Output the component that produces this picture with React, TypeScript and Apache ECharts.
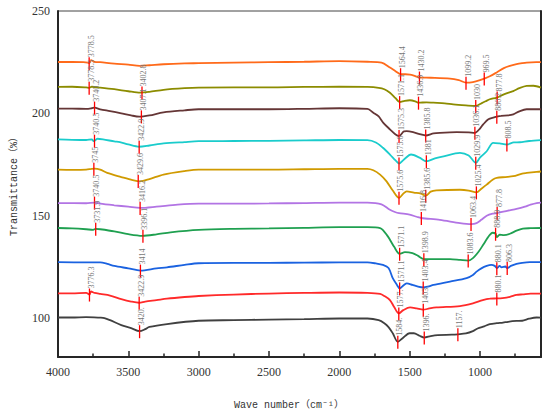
import React, { useEffect, useRef } from "react";
import * as echarts from "echarts";

const xTicks = [1000, 1500, 2000, 2500, 3000, 3500, 4000];
const xMinorTicks = [750, 1250, 1750, 2250, 2750, 3250, 3750];
const yTicks = [100, 150, 200, 250];

type Pt = [number, number];

const orange: Pt[] = [
  [4000, 225.1], [3900, 225.1], [3820, 225], [3790, 224.8], [3778, 224.5], [3765, 226], [3740, 225.2],
  [3700, 225], [3600, 224.3], [3500, 223.8], [3420, 223.2], [3350, 223.5], [3250, 224], [3100, 224.4],
  [3000, 224.5], [2750, 224.8], [2500, 225], [2250, 225.2], [2000, 225.5], [1800, 225.2], [1700, 224.8],
  [1640, 222.4], [1600, 220.6], [1564, 219.1], [1530, 219.1], [1498, 218.9], [1470, 218.4], [1430, 217.5],
  [1350, 217.4], [1213, 217], [1150, 216.2], [1099, 215], [1050, 215.3], [1000, 216.2], [969, 217],
  [930, 218.1], [881, 220], [830, 222.1], [787, 223.2], [740, 224], [700, 224.5], [668, 224.8], [600, 225], [566, 225],
];
const olive: Pt[] = [
  [4000, 212.9], [3900, 213], [3800, 212.7], [3778, 212.5], [3760, 213], [3700, 212.6], [3600, 211.8],
  [3500, 210.8], [3416, 210.1], [3350, 210.5], [3250, 211.5], [3100, 212.3], [3000, 212.6], [2750, 212.7],
  [2500, 212.7], [2250, 212.9], [2000, 213], [1800, 212.9], [1720, 212.5], [1680, 211.8], [1640, 210.1],
  [1600, 207.4], [1571, 205.5], [1535, 206.1], [1498, 206.4], [1460, 205.9], [1436, 205.2], [1380, 205.4],
  [1332, 205.2], [1250, 204.9], [1190, 204.4], [1100, 203.9], [1030, 203.6], [990, 204.9], [960, 205.9],
  [930, 206.9], [880, 207.7], [830, 209.3], [790, 210.3], [763, 210.9], [720, 212.3], [668, 213.4], [620, 213.5], [566, 212.6],
];
const brown: Pt[] = [
  [4000, 202.3], [3900, 202.3], [3800, 202.2], [3760, 202.5], [3740, 202.8], [3700, 202], [3630, 201.1],
  [3550, 200], [3480, 199], [3422, 198.4], [3350, 199], [3250, 200.5], [3100, 201.5], [3000, 202],
  [2750, 202], [2500, 202], [2250, 202.2], [2000, 202.5], [1800, 202.2], [1758, 200.3], [1720, 198.5],
  [1687, 195.4], [1640, 192.2], [1600, 189.7], [1575, 188.9], [1540, 191.2], [1521, 191.3], [1470, 190.7],
  [1420, 189.7], [1386, 189.2], [1330, 190.2], [1285, 190.5], [1166, 190.8], [1080, 190.7], [1036, 190.5],
  [1000, 192.6], [977, 194.6], [940, 197.1], [900, 198], [880, 198.4], [850, 198.8], [800, 199], [763, 199.5],
  [720, 201], [668, 202], [620, 202], [566, 202],
];
const cyan: Pt[] = [
  [4000, 187.3], [3900, 187.1], [3800, 187], [3760, 187.3], [3745, 186.4], [3720, 187.6], [3680, 187.3],
  [3600, 186.3], [3560, 185.9], [3500, 184.8], [3423, 183.7], [3350, 184.3], [3250, 185.3], [3100, 186],
  [3000, 186.4], [2750, 186.5], [2500, 186.6], [2250, 186.8], [2000, 187], [1800, 186.9], [1740, 185.8],
  [1690, 183.2], [1640, 179.9], [1600, 177], [1575, 175.5], [1540, 177.5], [1490, 179.9], [1430, 178.4],
  [1381, 176.6], [1320, 178], [1258, 179], [1142, 180.7], [1080, 179.4], [1029, 175.8], [1000, 178.4],
  [952, 181.5], [906, 185.6], [860, 185.3], [808, 184.8], [760, 185.8], [716, 185.9], [650, 186.5], [566, 186.9],
];
const gold: Pt[] = [
  [4000, 172.5], [3900, 172.4], [3800, 172.5], [3760, 172.9], [3740, 173], [3700, 172.5], [3650, 170.9],
  [3550, 168.9], [3470, 167.4], [3416, 166.8], [3350, 167.9], [3250, 170.1], [3100, 171.8], [3000, 172.5],
  [2750, 172.5], [2500, 172.5], [2250, 172.7], [2000, 172.9], [1800, 172.9], [1758, 172.2], [1710, 170.1],
  [1664, 166.8], [1620, 162.3], [1575, 158.7], [1545, 160.8], [1521, 161.9], [1470, 161.3], [1420, 160.8],
  [1385, 159.8], [1350, 161.8], [1310, 162.4], [1142, 162.7], [1080, 162.3], [1025, 161.4], [990, 163.2],
  [952, 165.2], [910, 167.6], [881, 168.5], [820, 168.9], [763, 169.3], [700, 170.6], [668, 170.9], [597, 171.4], [566, 171.6],
];
const purple: Pt[] = [
  [4000, 156.2], [3800, 156.1], [3740, 156.4], [3700, 155.9], [3600, 155.1], [3500, 154.4], [3416, 153.8],
  [3300, 154.4], [3150, 155.4], [3000, 155.9], [2750, 155.9], [2500, 156], [2250, 156.2], [2000, 156.4],
  [1800, 156.4], [1700, 155.6], [1640, 152.9], [1600, 151.7], [1575, 151.3], [1500, 150.5], [1450, 149.5],
  [1417, 148.9], [1285, 148], [1142, 146.4], [1063, 145.9], [1024, 146.4], [990, 148], [952, 150], [910, 151],
  [877, 151.3], [800, 152.5], [740, 153.3], [680, 154.4], [640, 155.4], [597, 156.2], [566, 156.4],
];
const green: Pt[] = [
  [4000, 144], [3900, 143.8], [3800, 143.4], [3750, 143.1], [3732, 143.6], [3700, 143.4], [3600, 142.4],
  [3500, 141], [3400, 140.2], [3300, 140.9], [3200, 141.9], [3000, 143.1], [2750, 143.6], [2500, 143.8],
  [2250, 144.1], [2000, 144.4], [1800, 144.4], [1710, 144], [1655, 139.9], [1610, 134.8], [1571, 131.4],
  [1533, 132.2], [1480, 131.7], [1440, 130.4], [1399, 128.8], [1300, 128.8], [1213, 128.8], [1140, 128.4],
  [1083, 128.1], [1050, 129.3], [1010, 132.4], [977, 135.8], [950, 138.7], [930, 140.7], [910, 141.7],
  [889, 141.2], [880, 139.6], [860, 140.7], [830, 140.5], [787, 141.2], [740, 142.7], [695, 143.7], [640, 143.9], [566, 144],
];
const blue: Pt[] = [
  [4000, 127.3], [3800, 127.2], [3700, 127.2], [3650, 126.5], [3600, 125.5], [3500, 124.3], [3414, 123.2],
  [3300, 124.3], [3225, 124.8], [3100, 126], [3000, 126.8], [2750, 127], [2500, 127], [2250, 127.1],
  [2000, 127.2], [1800, 127.2], [1740, 126.7], [1690, 126], [1650, 124.5], [1620, 119.5], [1590, 116.2],
  [1571, 114.5], [1540, 116.2], [1520, 117], [1480, 116.2], [1440, 115.4], [1403, 115], [1370, 115.4],
  [1330, 116.2], [1213, 117.8], [1095, 119.5], [1050, 121.1], [1024, 122.7], [990, 124.3], [952, 125.5],
  [920, 126], [895, 125.5], [880, 124.4], [860, 125.5], [846, 124.8], [820, 125.2], [806, 124.4], [780, 125.5],
  [740, 126.5], [700, 127], [645, 127.3], [566, 127.3],
];
const red: Pt[] = [
  [4000, 112.1], [3900, 112.1], [3800, 112.3], [3776, 111.5], [3765, 113], [3740, 112.3], [3700, 111.8],
  [3630, 111], [3550, 109.3], [3480, 108.1], [3423, 107.5], [3380, 108.1], [3300, 108.8], [3225, 109.5],
  [3100, 110.3], [3000, 110.8], [2750, 111.5], [2500, 112], [2250, 112.3], [2000, 112.5], [1800, 112.3],
  [1710, 111.8], [1680, 110.8], [1640, 108.8], [1610, 105.4], [1577, 102.3], [1545, 103.9], [1497, 105.2],
  [1450, 104.7], [1403, 104.1], [1360, 104.7], [1310, 105.2], [1142, 105.9], [1050, 107.2], [980, 108.8],
  [930, 109.5], [880, 109.6], [840, 109.8], [787, 110.4], [740, 111.3], [695, 111.6], [640, 112], [566, 112],
];
const black: Pt[] = [
  [4000, 100.3], [3900, 100.3], [3800, 100.5], [3700, 100.2], [3670, 100], [3630, 99], [3550, 96.6],
  [3480, 95.1], [3420, 93.6], [3380, 94.6], [3350, 95.7], [3225, 97.1], [3000, 98.7], [2750, 99],
  [2500, 99.3], [2250, 99.5], [2000, 99.8], [1800, 99.8], [1720, 99], [1680, 97.5], [1650, 95.6],
  [1620, 92.6], [1584, 88.4], [1550, 90.2], [1500, 92.6], [1470, 92.6], [1430, 91.4], [1396, 90.5],
  [1350, 91.2], [1300, 91.7], [1200, 91.9], [1157, 92.1], [1100, 92.5], [1050, 93.6], [1017, 94.9],
  [970, 96], [930, 97], [880, 97.5], [836, 97.8], [800, 98.2], [740, 98.6], [700, 98.7], [650, 99.7], [597, 100.3], [566, 100.2],
];

const orangePeaks = ["3778.5", "1564.4", "1430.2", "1099.2", "969.5"];
const olivePeaks = ["3778.5", "3402.8", "1571.1", "1436.9", "1030", "877.8"];
const brownPeaks = ["3740.2", "3407.1", "1575.3", "1385.8", "1036.1", "880.2"];
const cyanPeaks = ["3740.5", "3422.9", "1575.6", "1381", "1029.9", "808.5"];
const goldPeaks = ["3745", "3429.6", "1575.6", "1385.6", "1025.4"];
const purplePeaks = ["3740.5", "3416.2", "1416.8", "1063.4", "877.8"];
const greenPeaks = ["3731.9", "3396.1", "1571.1", "1398.9", "1083.6", "888.9"];
const bluePeaks = ["3414", "1571.1", "1403.4", "880.1", "806.3"];
const redPeaks = ["3776.3", "3422.9", "1577.", "1403.", "880.1"];
const blackPeaks = ["3420.", "1584.", "1396.", "1157."];

const curves = [orange, olive, brown, cyan, gold, purple, green, blue, red, black];
const peaks = [orangePeaks, olivePeaks, brownPeaks, cyanPeaks, goldPeaks, purplePeaks, greenPeaks, bluePeaks, redPeaks, blackPeaks];
const colors = ["#FF6A1A", "#8C8C00", "#653636", "#1ACCCC", "#D09A00", "#B274E4", "#1FA050", "#1A62E0", "#FF2A2A", "#404040"];

function interp(data: Pt[], w: number): number {
  for (let i = 0; i < data.length - 1; i++) {
    const [w0, v0] = data[i];
    const [w1, v1] = data[i + 1];
    if ((w <= w0 && w >= w1) || (w >= w0 && w <= w1)) {
      if (w0 === w1) return v0;
      return v0 + ((w - w0) / (w1 - w0)) * (v1 - v0);
    }
  }
  return data[data.length - 1][1];
}

export default function App() {
  const ref = useRef<HTMLDivElement>(null);
  useEffect(() => {
    if (!ref.current) return;
    const chart = echarts.init(ref.current, null, { renderer: "svg" });
    const markerData: number[][] = [];
    const markerLabels: string[] = [];
    curves.forEach((c, i) => {
      peaks[i].forEach((p) => {
        const w = parseFloat(p);
        markerData.push([w, interp(c, w)]);
        markerLabels.push(p);
      });
    });
    const serif = "'Liberation Serif', 'Times New Roman', serif";
    const mono = "'Liberation Mono', 'DejaVu Sans Mono', 'Noto Sans CJK SC', monospace";
    const series: any[] = curves.map((c, i) => ({
      type: "line",
      data: c,
      xAxisIndex: 0,
      yAxisIndex: 0,
      showSymbol: false,
      smooth: 0.3,
      lineStyle: { color: colors[i], width: 1.8 },
      itemStyle: { color: colors[i] },
      z: 2,
    }));
    series.push({
      type: "custom",
      xAxisIndex: 0,
      yAxisIndex: 0,
      data: markerData,
      encode: { x: 0, y: 1 },
      clip: false,
      z: 5,
      silent: true,
      renderItem: (params: any, api: any) => {
        const p = api.coord([api.value(0), api.value(1)]);
        const label = markerLabels[params.dataIndex];
        return {
          type: "group",
          children: [
            {
              type: "line",
              shape: { x1: p[0], y1: p[1] - 6, x2: p[0], y2: p[1] + 7 },
              style: { stroke: "#FF0000", lineWidth: 1.3 },
            },
            {
              type: "text",
              x: p[0] + 2,
              y: p[1] - 6,
              rotation: Math.PI / 2,
              style: {
                text: label,
                fill: "#777777",
                font: `8px ${serif}`,
                align: "left",
                verticalAlign: "middle",
              },
            },
          ],
        };
      },
    });
    const plain = (v: number) => String(v);
    chart.setOption({
      animation: false,
      backgroundColor: "#ffffff",
      grid: { left: 58, right: 9, top: 11, bottom: 60, show: true, borderColor: "#444", borderWidth: 1 },
      xAxis: [
        {
          type: "value",
          inverse: true,
          min: 566,
          max: 4000,
          position: "bottom",
          axisLine: { show: true, lineStyle: { color: "#262626", width: 2 } },
          axisTick: { show: true, inside: true, length: 6, customValues: xTicks, lineStyle: { color: "#262626", width: 1.5 } },
          axisLabel: { show: true, customValues: xTicks, formatter: plain, margin: 9, color: "#333", fontSize: 12, fontFamily: serif },
          splitLine: { show: false },
        },
        {
          type: "value",
          inverse: true,
          min: 566,
          max: 4000,
          position: "bottom",
          axisLine: { show: false },
          axisTick: { show: true, inside: true, length: 3.5, customValues: xMinorTicks, lineStyle: { color: "#262626", width: 1.5 } },
          axisLabel: { show: false },
          splitLine: { show: false },
        },
      ],
      yAxis: [
        {
          type: "value",
          min: 81,
          max: 250,
          position: "left",
          axisLine: { show: true, lineStyle: { color: "#262626", width: 2 } },
          axisTick: { show: false },
          axisLabel: { show: true, customValues: yTicks, formatter: plain, margin: 8, color: "#333", fontSize: 12, fontFamily: serif },
          splitLine: { show: false },
        },
        {
          type: "value",
          min: 81,
          max: 250,
          position: "right",
          axisLine: { show: true, lineStyle: { color: "#262626", width: 2 } },
          axisTick: { show: false },
          axisLabel: { show: false },
          splitLine: { show: false },
        },
      ],
      graphic: [
        {
          type: "text",
          x: 14,
          y: 184,
          rotation: Math.PI / 2,
          style: {
            text: "Transmittance（%）",
            fill: "#333",
            font: `10px ${mono}`,
            align: "center",
            verticalAlign: "middle",
          },
        },
        {
          type: "text",
          x: 289,
          y: 405,
          style: {
            text: "Wave number（cm⁻¹）",
            fill: "#333",
            font: `10px ${mono}`,
            align: "center",
            verticalAlign: "middle",
          },
        },
      ],
      series,
    });
    return () => chart.dispose();
  }, []);
  return (
    <div
      ref={ref}
      style={{ position: "fixed", left: 0, top: 0, width: 550, height: 417, background: "#fff" }}
    />
  );
}
